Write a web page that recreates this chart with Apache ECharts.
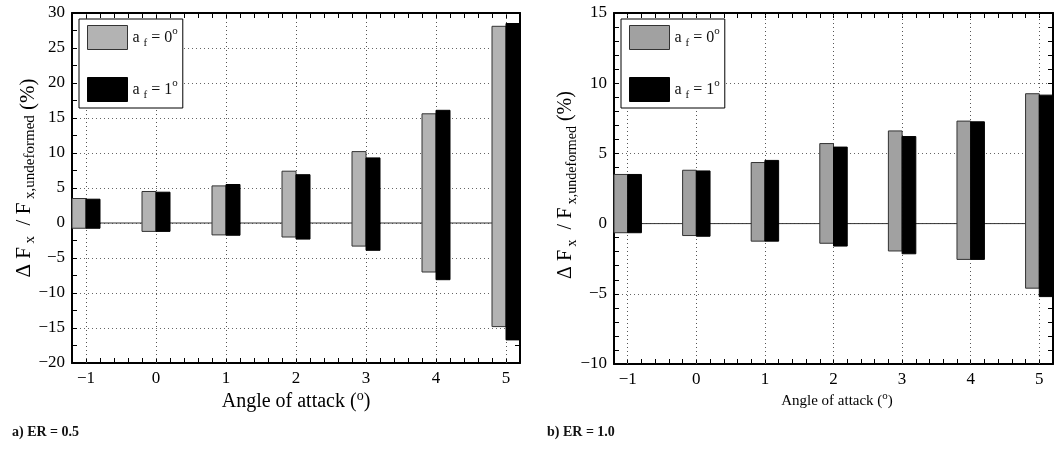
<!DOCTYPE html>
<html>
<head>
<meta charset="utf-8">
<script src="https://cdn.jsdelivr.net/npm/echarts@6/dist/echarts.min.js"></script>
<style>
  html, body { margin: 0; padding: 0; background: #fff; }
  #chart { width: 1056px; height: 450px; }
</style>
</head>
<body>
<div id="chart"></div>
<script>
// Angle of attack categories (degrees)
const ANGLES = [-1, 0, 1, 2, 3, 4, 5];

// ER = 0.5 : range of ΔFx / Fx,undeformed (%) for each angle
const ER05_AF0_HIGH = [3.5, 4.5, 5.3, 7.4, 10.2, 15.6, 28.1];
const ER05_AF0_LOW  = [-0.75, -1.2, -1.7, -2.0, -3.3, -7.0, -14.8];
const ER05_AF1_HIGH = [3.4, 4.4, 5.5, 6.9, 9.3, 16.1, 28.5];
const ER05_AF1_LOW  = [-0.75, -1.2, -1.75, -2.3, -3.9, -8.1, -16.7];

// ER = 1.0
const ER10_AF0_HIGH = [3.5, 3.8, 4.35, 5.7, 6.6, 7.3, 9.25];
const ER10_AF0_LOW  = [-0.65, -0.85, -1.25, -1.4, -1.95, -2.55, -4.6];
const ER10_AF1_HIGH = [3.5, 3.75, 4.5, 5.45, 6.2, 7.25, 9.15];
const ER10_AF1_LOW  = [-0.65, -0.9, -1.25, -1.6, -2.15, -2.55, -5.2];

// Axis ranges
const X_MIN = -1.2, X_MAX = 5.2, X_STEP = 0.2;
const Y1_MIN = -20, Y1_MAX = 30;
const Y2_MIN = -10, Y2_MAX = 15;

const FONT = "'Liberation Serif', 'Times New Roman', serif";
const GREY_LEFT = '#b3b3b3';
const GREY_RIGHT = '#a1a1a1';
const BAR_W = 0.2;

const minus = v => (v < 0 ? '\u2212' + Math.abs(v) : String(v));

function xAxisPair(gridIndex) {
  const common = {
    type: 'value', gridIndex, min: X_MIN, max: X_MAX, interval: X_STEP,
    axisLine: { show: true, onZero: false, lineStyle: { color: '#000', width: 2 } },
    axisTick: { show: true, inside: true, length: 5, lineStyle: { color: '#000', width: 1 } },
    splitLine: { show: false }
  };
  return [
    Object.assign({}, common, {
      position: 'bottom',
      axisLabel: {
        show: true, margin: 7, color: '#000', fontFamily: FONT, fontSize: 17,
        formatter: v => {
          const r = Math.round(v);
          return Math.abs(v - r) < 1e-6 && ANGLES.includes(r) ? minus(r) : '';
        }
      }
    }),
    Object.assign({}, common, { position: 'top', axisLabel: { show: false } })
  ];
}

function yAxisPair(gridIndex, min, max, minorSplit) {
  const common = {
    type: 'value', gridIndex, min, max, interval: 5,
    axisLine: { show: true, onZero: false, lineStyle: { color: '#000', width: 2 } },
    axisTick: { show: true, inside: true, length: 5, lineStyle: { color: '#000', width: 1 } },
    minorTick: { show: true, splitNumber: minorSplit, length: 5, lineStyle: { color: '#000', width: 1 } }
  };
  return [
    Object.assign({}, common, {
      position: 'left',
      axisLabel: { show: true, margin: 7, color: '#000', fontFamily: FONT, fontSize: 17, formatter: minus },
      splitLine: { show: true, lineStyle: { color: '#666', width: 1, type: [1, 3] } }
    }),
    Object.assign({}, common, { position: 'right', axisLabel: { show: false }, splitLine: { show: false } })
  ];
}

// Floating bar from low to high; offset places it left (-BAR_W) or right (0) of the angle
function floatingBars(name, gridIndex, lows, highs, offset, fill, stroke) {
  return {
    type: 'custom', name, xAxisIndex: gridIndex * 2, yAxisIndex: gridIndex * 2, z: 3,
    data: ANGLES.map((a, i) => [a, lows[i], highs[i]]),
    encode: { x: 0, y: [1, 2] },
    itemStyle: { color: fill, borderColor: stroke, borderWidth: 1 },
    renderItem(params, api) {
      const x = api.value(0);
      const p1 = api.coord([x + offset, api.value(2)]);
      const p2 = api.coord([x + offset + BAR_W, api.value(1)]);
      return {
        type: 'rect',
        shape: { x: p1[0], y: p1[1], width: p2[0] - p1[0], height: p2[1] - p1[1] },
        style: { fill, stroke, lineWidth: 1 }
      };
    }
  };
}

// Zero reference line plus dotted vertical grid at each angle
function zeroLine(gridIndex) {
  return {
    type: 'line', xAxisIndex: gridIndex * 2, yAxisIndex: gridIndex * 2, z: 1, silent: true,
    data: [[X_MIN, 0], [X_MAX, 0]], symbol: 'none',
    lineStyle: { color: '#333', width: 1 },
    markLine: {
      silent: true, symbol: 'none', z: 1, label: { show: false },
      lineStyle: { color: '#555', width: 1, type: [1, 3] },
      data: ANGLES.map(a => ({ xAxis: a }))
    }
  };
}

const legendRich = {
  n: { fontFamily: FONT, fontSize: 16, color: '#111', verticalAlign: 'middle' },
  s: { fontFamily: FONT, fontSize: 11, color: '#111', verticalAlign: 'middle', padding: [12, 0, 0, 0] },
  p: { fontFamily: FONT, fontSize: 11, color: '#111', verticalAlign: 'middle', padding: [0, 0, 12, 0] }
};
const legendLabel = name => name === 'af0' ? '{n|a }{s|f}{n| = 0}{p|o}' : '{n|a }{s|f}{n| = 1}{p|o}';

function legendBox(left, grey) {
  return {
    left, top: 19, orient: 'vertical', selectedMode: false,
    itemWidth: 40, itemHeight: 24, itemGap: 27,
    padding: [6, 5, 6, 8], borderColor: '#000', borderWidth: 1, backgroundColor: '#fff',
    formatter: legendLabel, textStyle: { rich: legendRich },
    data: [
      { name: 'af0', icon: 'rect', itemStyle: { color: grey, borderColor: '#333', borderWidth: 1 } },
      { name: 'af1', icon: 'rect', itemStyle: { color: '#000', borderColor: '#000', borderWidth: 1 } }
    ]
  };
}

function richText(size, unitDrop) {
  const sub = Math.round(size * 0.7);
  const shift = Math.round(size * 0.6);
  return {
    n: { fontFamily: FONT, fontSize: size, color: '#111', verticalAlign: 'middle' },
    s: { fontFamily: FONT, fontSize: sub, color: '#111', verticalAlign: 'middle', padding: [shift, 0, 0, 0] },
    p: { fontFamily: FONT, fontSize: sub, color: '#111', verticalAlign: 'middle', padding: [0, 0, shift, 0] },
    u: { fontFamily: FONT, fontSize: size, color: '#111', verticalAlign: 'middle', padding: [unitDrop || 0, 0, 0, 0] }
  };
}

const yTitle = '{n|\u0394 F}{s| x}{n|  / F}{s| x,undeformed}{u| (%)}';
const xTitle = '{n|Angle of attack (}{p|o}{n|)}';

const chart = echarts.init(document.getElementById('chart'), null, { renderer: 'canvas' });
chart.setOption({
  animation: false,
  backgroundColor: '#fff',
  grid: [
    { left: 72, top: 13, width: 448, height: 350 },
    { left: 614, top: 13, width: 445, height: 351 }
  ],
  xAxis: [...xAxisPair(0), ...xAxisPair(1)],
  yAxis: [...yAxisPair(0, Y1_MIN, Y1_MAX, 2), ...yAxisPair(1, Y2_MIN, Y2_MAX, 5)],
  legend: [legendBox(79, GREY_LEFT), legendBox(621, GREY_RIGHT)],
  series: [
    zeroLine(0),
    floatingBars('af0', 0, ER05_AF0_LOW, ER05_AF0_HIGH, -BAR_W, GREY_LEFT, '#333'),
    floatingBars('af1', 0, ER05_AF1_LOW, ER05_AF1_HIGH, 0, '#000', '#000'),
    zeroLine(1),
    floatingBars('af0', 1, ER10_AF0_LOW, ER10_AF0_HIGH, -BAR_W, GREY_RIGHT, '#333'),
    floatingBars('af1', 1, ER10_AF1_LOW, ER10_AF1_HIGH, 0, '#000', '#000')
  ],
  graphic: [
    { type: 'text', x: 24, y: 178, rotation: Math.PI / 2, silent: true,
      style: { text: yTitle, rich: richText(21, 8), align: 'center', verticalAlign: 'middle' } },
    { type: 'text', x: 566, y: 185, rotation: Math.PI / 2, silent: true,
      style: { text: yTitle, rich: richText(20, 0), align: 'center', verticalAlign: 'middle' } },
    { type: 'text', x: 296, y: 402, silent: true,
      style: { text: xTitle, rich: richText(20), align: 'center', verticalAlign: 'middle' } },
    { type: 'text', x: 837, y: 401, silent: true,
      style: { text: xTitle, rich: richText(15), align: 'center', verticalAlign: 'middle' } },
    { type: 'text', x: 12, y: 432, silent: true,
      style: { text: 'a) ER = 0.5', font: "bold 14px 'Liberation Serif', serif", fill: '#111', verticalAlign: 'middle' } },
    { type: 'text', x: 547, y: 432, silent: true,
      style: { text: 'b) ER = 1.0', font: "bold 14px 'Liberation Serif', serif", fill: '#111', verticalAlign: 'middle' } }
  ]
});
</script>
</body>
</html>
